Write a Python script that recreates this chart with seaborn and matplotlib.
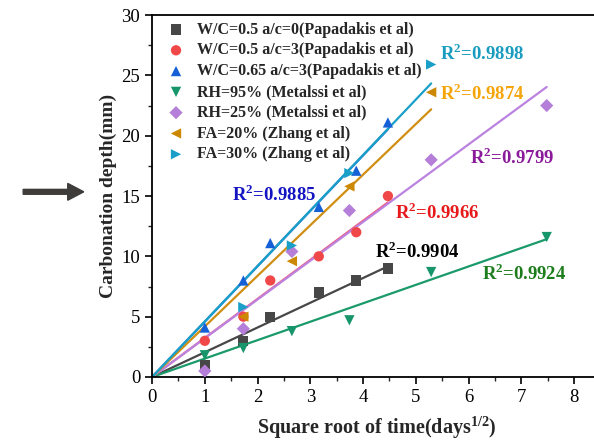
import numpy as np
import pandas as pd
import matplotlib
matplotlib.use("Agg")
import matplotlib.pyplot as plt
import matplotlib.patches as mpatches
from matplotlib.ticker import MultipleLocator
import seaborn as sns

# --------------------------------------------------
# DATA (sqrt of days vs carbonation depth in mm)
# --------------------------------------------------

x_papadakis = [1.0, 1.73, 2.24, 3.16, 3.87, 4.47]
x_metalssi = [1.0, 1.73, 2.65, 3.74, 5.29, 7.48]
x_zhang = [1.73, 2.65, 3.74, 5.29]

y_wc05_ac0 = [1.0, 3.0, 5.0, 7.0, 8.0, 9.0]
y_wc05_ac3 = [3.0, 5.0, 8.0, 10.0, 12.0, 15.0]
y_wc065_ac3 = [4.1, 8.0, 11.1, 14.1, 17.1, 21.1]
y_rh95 = [1.8, 2.4, 3.8, 4.7, 8.7, 11.6]
y_rh25 = [0.5, 4.0, 10.4, 13.8, 18.0, 22.5]
y_fa20 = [5.0, 9.6, 15.8, 23.6]
y_fa30 = [5.8, 10.9, 16.9, 25.9]

labels = [
    "W/C=0.5 a/c=0(Papadakis et al)",
    "W/C=0.5 a/c=3(Papadakis et al)",
    "W/C=0.65 a/c=3(Papadakis et al)",
    "RH=95% (Metalssi et al)",
    "RH=25% (Metalssi et al)",
    "FA=20% (Zhang et al)",
    "FA=30% (Zhang et al)",
]

r2_labels = ["0.9904", "0.9966", "0.9885", "0.9924", "0.9799", "0.9874", "0.9898"]

# --------------------------------------------------
# STYLE PER SERIES
# --------------------------------------------------

series = [
    (x_papadakis, y_wc05_ac0, "s", "#474747", "#474747", "black", (4.23, 10.4)),
    (x_papadakis, y_wc05_ac3, "o", "#f04848", "#ee5a7c", "#e8191a", (4.60, 13.6)),
    (x_papadakis, y_wc065_ac3, "^", "#1560d6", "#1560d6", "#1414c4", (1.52, 15.1)),
    (x_metalssi, y_rh95, "v", "#16966a", "#1a9a6a", "#1d7d1d", (6.26, 8.6)),
    (x_metalssi, y_rh25, "D", "#b57ed8", "#bb82e0", "#8a1a9a", (6.03, 18.2)),
    (x_zhang, y_fa20, "<", "#cc8800", "#d08e12", "#f5a50a", (5.46, 23.5)),
    (x_zhang, y_fa30, ">", "#1aa0c8", "#1aa0c8", "#1a9cc0", (5.46, 26.8)),
]

sns.set_style("ticks")
plt.rcParams["font.family"] = ["Liberation Serif", "DejaVu Serif"]
plt.rcParams["mathtext.fontset"] = "custom"
plt.rcParams["mathtext.rm"] = "Liberation Serif"
plt.rcParams["mathtext.bf"] = "Liberation Serif:bold"

fig = plt.figure(figsize=(5.94, 4.43), dpi=100)
ax = fig.add_axes([0.256, 0.149, 0.755, 0.817])

# --------------------------------------------------
# FIT LINES (through origin) AND POINTS
# --------------------------------------------------

for i, (xs, ys, mk, mcol, lcol, tcol, tpos) in enumerate(series):
    xs = np.array(xs)
    ys = np.array(ys)
    slope = np.sum(xs * ys) / np.sum(xs * xs)
    fit = pd.DataFrame({"x": [0.0, xs.max()], "y": [0.0, slope * xs.max()]})
    sns.lineplot(data=fit, x="x", y="y", color=lcol, linewidth=1.6,
                 legend=False, ax=ax, zorder=2)

for i, (xs, ys, mk, mcol, lcol, tcol, tpos) in enumerate(series):
    pts = pd.DataFrame({"x": xs, "y": ys})
    sns.scatterplot(data=pts, x="x", y="y", marker=mk, color=mcol,
                    s=55 if mk != "D" else 45, edgecolor="none",
                    label=labels[i], ax=ax, zorder=3)
    ax.text(tpos[0], tpos[1], r"R$^{\mathbf{2}}$=" + r2_labels[i],
            color=tcol, fontsize=13.5, fontweight="bold",
            va="center", ha="left")

# --------------------------------------------------
# AXES
# --------------------------------------------------

ax.set_xlim(0, 8.5)
ax.set_ylim(0, 30)
ax.xaxis.set_major_locator(MultipleLocator(1))
ax.xaxis.set_minor_locator(MultipleLocator(0.5))
ax.yaxis.set_major_locator(MultipleLocator(5))
ax.yaxis.set_minor_locator(MultipleLocator(2.5))
ax.tick_params(which="major", direction="out", length=5, width=1.2,
               labelsize=13.5, colors="black")
ax.tick_params(which="minor", direction="out", length=3, width=1.0)
for sp in ax.spines.values():
    sp.set_linewidth(1.3)
    sp.set_color("black")

ax.set_xlabel("Square root of time(days$^{\\mathbf{1/2}}$)",
              fontsize=14.5, fontweight="bold", labelpad=6)
ax.set_ylabel("Carbonation depth(mm)", fontsize=14, fontweight="bold",
              labelpad=3)

leg = ax.legend(loc="upper left", bbox_to_anchor=(0.0, 1.017), frameon=False,
                prop={"weight": "bold", "size": 11.5}, handletextpad=0.6,
                labelspacing=0.30, borderaxespad=0.4, handlelength=1.4)

# --------------------------------------------------
# ARROW ON THE LEFT
# --------------------------------------------------

fig.add_artist(mpatches.FancyArrow(
    0.039, 0.567, 0.102, 0.0, width=0.011, head_width=0.038,
    head_length=0.027, length_includes_head=True, color="#3f3c3c",
    transform=fig.transFigure))

fig.savefig("out.png", dpi=100)
